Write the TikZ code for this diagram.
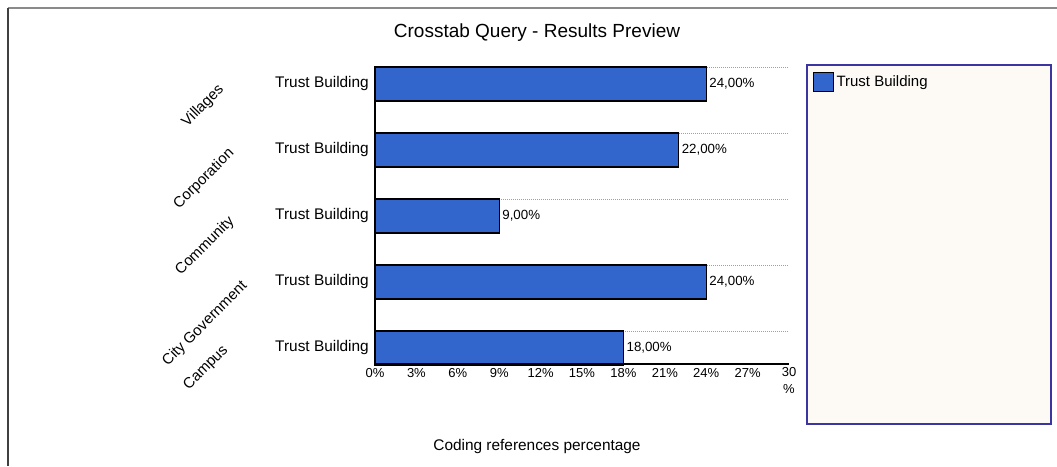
\documentclass[tikz,border=0pt]{standalone}
\usepackage{fontspec}
\setmainfont{Liberation Sans}
\definecolor{barblue}{HTML}{3366CC}
\definecolor{legfill}{HTML}{FDFAF5}
\definecolor{legborder}{HTML}{3A35A0}
\definecolor{framegray}{HTML}{8A8A8A}
\definecolor{framedark}{HTML}{404040}
\definecolor{gridgray}{HTML}{A0A0A0}
\begin{document}
\begin{tikzpicture}[x=1pt,y=-1pt,
  barbox/.style={draw=black,line width=1.3pt,fill=barblue,anchor=west,minimum height=34pt,inner sep=0pt,outer sep=0pt},
  catlabel/.style={font=\fontsize{15.4}{18}\selectfont,anchor=east,inner sep=0pt},
  grouplabel/.style={font=\fontsize{15}{18}\selectfont,rotate=45,inner sep=0pt},
  vallabel/.style={font=\fontsize{13.3}{16}\selectfont,anchor=west,inner sep=0pt},
  ticklabel/.style={font=\fontsize{13}{16}\selectfont,inner sep=0pt},
  gridline/.style={draw=gridgray,line width=0.8pt,dash pattern=on 1pt off 1pt},
  axisline/.style={draw=black,line width=1.3pt}]
\useasboundingbox (0,0) rectangle (1057,466);
\fill[white] (0,0) rectangle (1057,466);
% frame
\draw[framegray,line width=2pt] (8,8) -- (1057,8);
\draw[framedark,line width=1.5pt] (8,8) -- (8,466);
% title
\node[font=\fontsize{19}{22}\selectfont] (title) at (537,33) {Crosstab Query - Results Preview};
% gridlines
\foreach \y in {67,133,199,265,331}{
  \draw[gridline] (375,\y) -- (789,\y);
}
% axes
\coordinate (origin) at (375,364);
\coordinate (ytop) at (375,67);
\coordinate (xend) at (789,364);
% bars
\node[barbox,minimum width=331.2pt] (b1) at (375,84) {};
\node[barbox,minimum width=303.6pt] (b2) at (375,150) {};
\node[barbox,minimum width=124.2pt] (b3) at (375,216) {};
\node[barbox,minimum width=331.2pt] (b4) at (375,282) {};
\node[barbox,minimum width=248.4pt] (b5) at (375,348) {};
\draw[axisline] (ytop) -- (origin) -- (xend);
% value labels
\node[vallabel] (v1) at ([xshift=3pt]b1.east) {24,00\%};
\node[vallabel] (v2) at ([xshift=3pt]b2.east) {22,00\%};
\node[vallabel] (v3) at ([xshift=3pt]b3.east) {9,00\%};
\node[vallabel] (v4) at ([xshift=3pt]b4.east) {24,00\%};
\node[vallabel] (v5) at ([xshift=3pt]b5.east) {18,00\%};
% category labels
\node[catlabel] (c1) at ([xshift=-6pt]b1.west) {Trust Building};
\node[catlabel] (c2) at ([xshift=-6pt]b2.west) {Trust Building};
\node[catlabel] (c3) at ([xshift=-6pt]b3.west) {Trust Building};
\node[catlabel] (c4) at ([xshift=-6pt]b4.west) {Trust Building};
\node[catlabel] (c5) at ([xshift=-6pt]b5.west) {Trust Building};
% group labels
\node[grouplabel] (g1) at (203,106) {Villages};
\node[grouplabel] (g2) at (204,179) {Corporation};
\node[grouplabel] (g3) at (205,246) {Community};
\node[grouplabel] (g4) at (205,324) {City Government};
\node[grouplabel] (g5) at (206,368) {Campus};
% ticks
\foreach \v [count=\i from 0] in {0,3,6,9,12,15,18,21,24,27}{
  \node[ticklabel] (t\i) at (375+13.8*\v,373) {\v\%};
}
\node[ticklabel,align=center,anchor=north] (t10) at (789,367) {30\\[1pt]\%};
% axis title
\node[font=\fontsize{15.4}{18}\selectfont] (xtitle) at (537,447) {Coding references percentage};
% legend
\node[draw=legborder,line width=2pt,fill=legfill,anchor=north west,minimum width=244pt,minimum height=359pt,inner sep=0pt] (legend) at (806,64) {};
\node[draw=black,line width=1.3pt,fill=barblue,minimum width=20pt,minimum height=19pt,inner sep=0pt,anchor=north west] (sw) at (813,72) {};
\node[font=\fontsize{15}{18}\selectfont,anchor=west,inner sep=0pt] (legtext) at ([xshift=2pt]sw.east) {Trust Building};
\end{tikzpicture}
\end{document}
